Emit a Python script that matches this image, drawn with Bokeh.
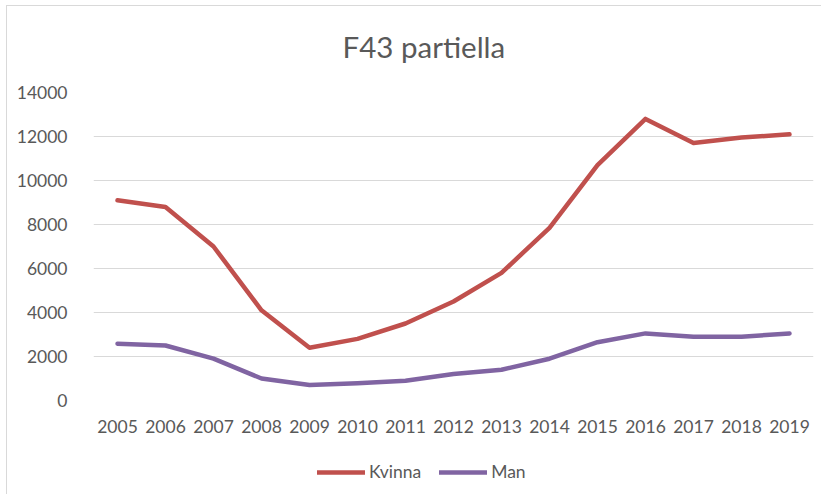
from bokeh.plotting import figure
from bokeh.layouts import column
from bokeh.models import FactorRange, Range1d, FixedTicker, Legend, LegendItem, Label, BasicTickFormatter
from bokeh.embed import file_html
from bokeh.resources import INLINE

years = [str(y) for y in range(2005, 2020)]
kvinna = [9100, 8800, 7000, 4100, 2400, 2800, 3500, 4500, 5800, 7850, 10700, 12800, 11700, 11950, 12100]
man = [2580, 2500, 1900, 1000, 700, 780, 900, 1200, 1400, 1900, 2650, 3050, 2900, 2900, 3050]
y_ticks = [0, 2000, 4000, 6000, 8000, 10000, 12000, 14000]
series_names = ["Kvinna", "Man"]
series_colors = ["#C0504D", "#8064A2"]
title_text = "F43 partiella"

FONT = "Lato"
GREY = "#595959"


def blank(height):
    f = figure(width=814, height=height, x_range=Range1d(0, 1), y_range=Range1d(0, 1),
               output_backend="svg", toolbar_location=None,
               x_axis_location=None, y_axis_location=None,
               min_border_left=0, min_border_right=0, min_border_top=0, min_border_bottom=0)
    f.outline_line_color = None
    f.xgrid.grid_line_color = None
    f.ygrid.grid_line_color = None
    return f


# title strip (its frame aligns with the chart frame)
hd = blank(74)
hd.add_layout(Label(x=249, y=34, x_units="screen", y_units="screen", text=title_text,
                    text_font=FONT, text_font_size="29.5px", text_color=GREY,
                    text_baseline="alphabetic", text_align="left"))

p = figure(width=814, height=370, x_range=FactorRange(*years), y_range=Range1d(0, 14000),
           output_backend="svg", toolbar_location=None,
           min_border_left=86, min_border_right=8, min_border_top=12, min_border_bottom=50)
p.outline_line_color = None
p.x_range.range_padding = 0

p.line(years, kvinna, line_color=series_colors[0], line_width=4.5, line_cap="round", line_join="round")
p.line(years, man, line_color=series_colors[1], line_width=4.5, line_cap="round", line_join="round")

p.yaxis.ticker = FixedTicker(ticks=y_ticks)
p.yaxis.formatter = BasicTickFormatter(use_scientific=False)
for ax in (p.xaxis[0], p.yaxis[0]):
    ax.axis_line_color = None
    ax.major_tick_line_color = None
    ax.minor_tick_line_color = None
    ax.major_label_text_font = FONT
    ax.major_label_text_font_size = "17.5px"
    ax.major_label_text_color = GREY
p.yaxis.major_label_standoff = 20
p.xaxis.major_label_standoff = 13

p.xgrid.grid_line_color = None
p.ygrid.grid_line_color = "#d9d9d9"
p.ygrid.grid_line_width = 1.2

# legend strip below the chart
lg = blank(44)
items = []
for name, col in zip(series_names, series_colors):
    # placeholder glyph outside the visible range, only used for the legend swatch
    r = lg.line([-2, -1], [-2, -1], line_color=col, line_width=4.5, line_cap="round")
    items.append(LegendItem(label=name, renderers=[r]))
legend = Legend(items=items, orientation="horizontal", location=(224, 12), border_line_color=None,
                background_fill_alpha=0, label_text_font=FONT, label_text_font_size="17.5px",
                label_text_color=GREY, glyph_width=48, glyph_height=20, spacing=18,
                label_standoff=4, margin=0, padding=0)
lg.add_layout(legend, "center")

layout = column(hd, p, lg, spacing=0)
layout.styles = {"border-top": "1px solid #d9d9d9", "border-left": "1px solid #d9d9d9",
                 "margin-left": "6px", "margin-top": "5px"}
open("out.html", "w").write(file_html(layout, INLINE))
